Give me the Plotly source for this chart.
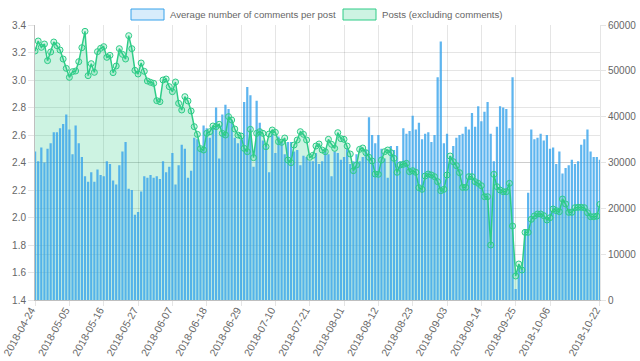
import pandas as pd
import plotly.graph_objects as go

dates = pd.date_range("2018-04-24", "2018-10-22", freq="D")

avg_comments = [
    2.48, 2.41, 2.51, 2.40, 2.50, 2.54, 2.62, 2.62, 2.65, 2.68, 2.75, 2.64, 2.46, 2.67, 2.54,
    2.44, 2.30, 2.26, 2.33, 2.26, 2.35, 2.31, 2.30, 2.41, 2.39, 2.27, 2.24, 2.38, 2.48, 2.55,
    2.21, 2.20, 2.02, 2.04, 2.19, 2.30, 2.29, 2.31, 2.29, 2.30, 2.28, 2.41, 2.33, 2.37, 2.47,
    2.24, 2.38, 2.53, 2.50, 2.29, 2.34, 2.58, 2.57, 2.50, 2.67, 2.65, 2.58, 2.67, 2.80, 2.43,
    2.75, 2.82, 2.79, 2.71, 2.58, 2.54, 2.57, 2.84, 2.95, 2.89, 2.37, 2.85, 2.69, 2.56, 2.54,
    2.33, 2.61, 2.47, 2.59, 2.55, 2.46, 2.55, 2.55, 2.48, 2.49, 2.38, 2.45, 2.44, 2.41, 2.41,
    2.47, 2.39, 2.41, 2.50, 2.46, 2.30, 2.48, 2.47, 2.42, 2.44, 2.50, 2.39, 2.41, 2.46, 2.41,
    2.44, 2.49, 2.73, 2.60, 2.54, 2.60, 2.50, 2.43, 2.29, 2.52, 2.49, 2.52, 2.41, 2.65, 2.61,
    2.63, 2.74, 2.64, 2.69, 2.57, 2.61, 2.62, 2.55, 2.60, 3.02, 3.28, 2.54, 2.61, 2.45, 2.52,
    2.58,
    2.60, 2.61, 2.66, 2.64, 2.76, 2.66, 2.81, 2.70, 2.77, 2.84, 2.61, 2.41, 2.66, 2.81, 2.80,
    2.79, 2.65, 3.02, 1.48, 1.65, 1.63, 1.91, 2.18, 2.64, 2.57, 2.58, 2.61, 2.56, 2.60, 2.50,
    2.51, 2.39, 2.48, 2.32, 2.36, 2.38, 2.42, 2.39, 2.41, 2.53, 2.57, 2.64, 2.48, 2.44, 2.44,
    2.42,
]

posts = [
    54327, 56509, 55127, 55855, 52218, 54109, 56291, 55491, 54545, 52582, 50545, 48582, 49818,
    49964, 52000, 55054, 58618, 48945, 51564, 49673, 54182, 54909, 55272, 52945, 53381, 49600,
    51054, 54836, 53600, 52582, 57672, 54836, 50109, 49309, 51709, 49891, 47782, 47491, 47273,
    43491, 43272, 48000, 48218, 46545, 45454,
    47564, 42909, 41454, 44364, 43418, 41236, 37818, 36145, 33018, 32727, 36364, 36727, 37964,
    37818, 38327, 36364, 36000, 40000, 39273, 37309, 36000, 35782, 33091, 32364, 37236, 31054,
    36364, 36727, 36364, 33454, 36218, 37091, 36582, 34545, 34400, 35345, 30545, 29964, 33818,
    34909, 36727, 36145, 34909, 31127, 31564,
    33600, 34036, 32727, 32364, 35054, 33964, 33091, 36509, 35200, 35054, 33600, 31854, 28218,
    29454, 32873, 33163, 32145, 31127, 30327, 27491, 27418, 30545, 32364, 32727, 32145, 30909,
    27854, 29454, 29600, 29818, 28000, 28218, 27854, 24509, 24145, 27054, 27491, 27273, 26909,
    25818, 23854, 24145, 27273, 31418, 30182, 29309,
    27782, 24582, 24582, 26909, 26909, 25818, 25454, 24945, 22545, 22545, 12000, 27418, 24727,
    24000, 23636, 23636, 25454, 16145, 5236, 7854, 6545, 14764, 14764, 17600, 18327, 18764,
    18764, 18400, 17454, 17963, 19854, 19490, 19272, 22036, 20945, 19127, 19127, 20145, 20218,
    20218, 20145, 19054, 18182, 18182, 18300, 20872,
]

tick_labels = [
    "2018-04-24", "2018-05-05", "2018-05-16", "2018-05-27", "2018-06-07", "2018-06-18",
    "2018-06-29", "2018-07-10", "2018-07-21", "2018-08-01", "2018-08-12", "2018-08-23",
    "2018-09-03", "2018-09-14", "2018-09-25", "2018-10-06", "2018-10-22",
]

bar_name = "Average number of comments per post"
line_name = "Posts (excluding comments)"

BLUE = "rgb(54,162,235)"
GREEN = "rgb(46,204,135)"
GREEN_FILL = "rgba(46,204,135,0.24)"
TXT = "#666666"
GRID = "rgba(0,0,0,0.1)"
FONT = "Liberation Sans, Arial, sans-serif"
FS = 10

fig = go.Figure()
# area fill of the posts series (drawn underneath the bars)
fig.add_trace(go.Scatter(
    x=dates, y=posts, name=line_name, yaxis="y",
    mode="none", fill="tozeroy", fillcolor=GREEN_FILL, showlegend=False,
    hoverinfo="skip",
))
# bars on the left-hand scale
fig.add_trace(go.Bar(
    x=dates, y=avg_comments, name=bar_name, yaxis="y2",
    marker=dict(color="rgba(54,162,235,0.8)", line=dict(width=0)),
    showlegend=False,
))
# posts line + points on top
fig.add_trace(go.Scatter(
    x=dates, y=posts, name=line_name, yaxis="y3",
    mode="lines+markers",
    line=dict(color=GREEN, width=1.5),
    marker=dict(size=6, color="rgba(46,204,135,0.2)", line=dict(color=GREEN, width=1)),
    showlegend=False,
))

# Legend drawn in Chart.js style (boxes + labels)
L, R, T, B = 35, 600, 25, 300
def px(xp):
    return (xp - L) / (R - L)
def py(yp):
    return (B - yp) / (B - T)

legend_items = [
    (131, 164, 168, bar_name, "rgba(54,162,235,0.2)", BLUE),
    (343, 376, 380, line_name, "rgba(46,204,135,0.24)", GREEN),
]
for x0, x1, tx, label, fillc, linec in legend_items:
    fig.add_shape(type="rect", xref="paper", yref="paper",
                  x0=px(x0), x1=px(x1), y0=py(20), y1=py(9),
                  fillcolor=fillc, line=dict(color=linec, width=1))
    fig.add_annotation(xref="paper", yref="paper", x=px(tx), y=py(14.5),
                       text=label, showarrow=False, xanchor="left", yanchor="middle",
                       font=dict(family=FONT, size=9.6, color=TXT))

fig.update_layout(
    width=640, height=361,
    margin=dict(l=L, r=640 - R, t=T, b=361 - B, autoexpand=False),
    paper_bgcolor="white", plot_bgcolor="white",
    bargap=0.28,
    font=dict(family=FONT, size=FS, color=TXT),
    xaxis=dict(
        type="date", range=["2018-04-23 23:30", "2018-10-22 00:30"],
        tickvals=pd.to_datetime(tick_labels), ticktext=tick_labels,
        tickangle=-61, ticks="outside", ticklen=5, tickcolor=GRID,
        ticklabelshift=-4, ticklabelstandoff=-6, ticklabeloverflow="allow",
        automargin=False,
        showgrid=True, gridcolor=GRID, gridwidth=1,
        showline=True, linecolor="rgba(0,0,0,0.25)", linewidth=1,
        tickfont=dict(family=FONT, size=10.5, color=TXT),
    ),
    yaxis=dict(
        side="right", automargin=False,
        range=[0, 60000], dtick=10000, tick0=0, tickformat="d",
        ticks="outside", ticklen=5, tickcolor=GRID,
        showgrid=True, gridcolor=GRID, gridwidth=1, zeroline=False,
        showline=True, linecolor=GRID, linewidth=1,
        tickfont=dict(family=FONT, size=FS, color=TXT),
    ),
    yaxis2=dict(
        overlaying="y", side="left", automargin=False,
        range=[1.4, 3.4], dtick=0.2, tick0=1.4, tickformat=".1f",
        ticks="outside", ticklen=6, tickcolor=GRID,
        showgrid=True, gridcolor=GRID, gridwidth=1, zeroline=False,
        showline=True, linecolor="rgba(0,0,0,0.25)", linewidth=1,
        tickfont=dict(family=FONT, size=FS, color=TXT),
    ),
    yaxis3=dict(
        overlaying="y", range=[0, 60000], visible=False, automargin=False,
        showgrid=False, zeroline=False,
    ),
    hovermode="x",
)

fig.write_html(
    "out.html",
    config={"displayModeBar": False},
    post_script="document.body.style.margin='0px';",
)
